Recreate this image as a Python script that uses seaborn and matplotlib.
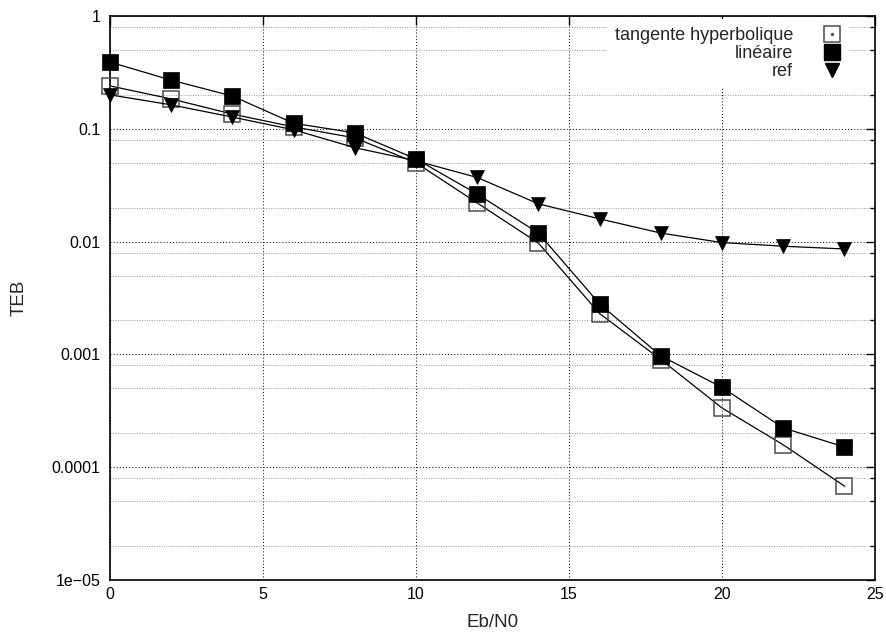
import matplotlib
matplotlib.use("Agg")
import matplotlib.pyplot as plt
import seaborn as sns
import pandas as pd
from matplotlib.lines import Line2D

# Bit error rate (TEB) versus Eb/N0 for three receivers
eb_n0 = [0, 2, 4, 6, 8, 10, 12, 14, 16, 18, 20, 22, 24]
teb_tanh = [0.24, 0.184, 0.135, 0.104, 0.083, 0.050, 0.022, 0.0097,
            0.0023, 0.0009, 3.35e-4, 1.58e-4, 6.8e-5]
teb_lin = [0.39, 0.27, 0.195, 0.112, 0.092, 0.054, 0.0264, 0.0119,
           0.0028, 0.00097, 5.1e-4, 2.23e-4, 1.51e-4]
teb_ref = [0.20, 0.163, 0.127, 0.098, 0.068, 0.052, 0.037, 0.0216,
           0.0159, 0.0119, 0.0098, 0.0091, 0.0086]

series_names = ["tangente hyperbolique", "linéaire", "ref"]

y_major = [1e-5, 1e-4, 1e-3, 1e-2, 1e-1, 1]
y_major_labels = ["1e\u221205", "0.0001", "0.001", "0.01", "0.1", "1"]
x_ticks = [0, 5, 10, 15, 20, 25]

sns.set_theme(style="white")
plt.rcParams["font.family"] = ["Liberation Sans", "DejaVu Sans"]

fig = plt.figure(figsize=(8.87, 6.32), dpi=100)
ax = fig.add_axes([0.124, 0.0823, 0.8625, 0.8924])

df = pd.DataFrame({"x": eb_n0, "tanh": teb_tanh, "lin": teb_lin, "ref": teb_ref})

line_kw = dict(color="black", linewidth=0.9, zorder=3, clip_on=False)
sq_size = 11.5

sns.lineplot(data=df, x="x", y="tanh", ax=ax, marker="s", markersize=sq_size,
             markerfacecolor="none", markeredgecolor="#4d4d4d",
             markeredgewidth=1.1, **line_kw)
sns.scatterplot(data=df, x="x", y="tanh", ax=ax, marker="o", s=1.5,
                color="#555555", linewidth=0, zorder=3, clip_on=False)
sns.lineplot(data=df, x="x", y="lin", ax=ax, marker="s", markersize=sq_size,
             markerfacecolor="black", markeredgecolor="black",
             markeredgewidth=0.5, **line_kw)
sns.lineplot(data=df, x="x", y="ref", ax=ax, marker="v", markersize=10.5,
             markerfacecolor="black", markeredgecolor="black",
             markeredgewidth=0.5, **line_kw)

ax.set_yscale("log")
ax.set_xlim(0, 25)
ax.set_ylim(1e-5, 1)
ax.set_xticks(x_ticks)
ax.set_xticklabels([str(v) for v in x_ticks])
ax.set_yticks(y_major)
ax.set_yticklabels(y_major_labels)
minor = [m * 10.0 ** e for e in range(-5, 0) for m in (2, 5, 8)]
ax.set_yticks(minor, minor=True)
ax.yaxis.set_minor_formatter(matplotlib.ticker.NullFormatter())

ax.tick_params(which="both", direction="in", top=True, right=True,
               colors="black", labelsize=11.5, width=1.0)
ax.tick_params(which="major", length=6.5)
ax.tick_params(which="minor", length=3.3)
ax.tick_params(axis="y", which="major", pad=7)
ax.tick_params(axis="x", which="major", pad=5)

ax.grid(True, which="major", axis="both", linestyle=(0, (1, 2)),
        color="#1a1a1a", linewidth=0.75)
ax.grid(True, which="minor", axis="y", linestyle=(0, (1, 1.5)),
        color="#999999", linewidth=0.7)
ax.set_axisbelow(True)

for sp in ax.spines.values():
    sp.set_color("black")
    sp.set_linewidth(1.2)

ax.set_xlabel("Eb/N0", fontsize=13.5, labelpad=9)
ax.set_ylabel("TEB", fontsize=13.5, labelpad=17)

handles = [
    (Line2D([], [], linestyle="none", marker="s", markersize=sq_size,
            markerfacecolor="white", markeredgecolor="#4d4d4d",
            markeredgewidth=1.1),
     Line2D([], [], linestyle="none", marker="o", markersize=1.5,
            color="#555555")),
    Line2D([], [], linestyle="none", marker="s", markersize=sq_size,
           markerfacecolor="black", markeredgecolor="black"),
    Line2D([], [], linestyle="none", marker="v", markersize=10.5,
           markerfacecolor="black", markeredgecolor="black"),
]
leg = ax.legend(handles, series_names, loc="upper right",
                bbox_to_anchor=(0.965, 0.994), markerfirst=False,
                frameon=True, fancybox=False, framealpha=1,
                facecolor="white", edgecolor="none", fontsize=13,
                handlelength=0.9, handletextpad=1.7, labelspacing=0.05,
                borderpad=0.45, borderaxespad=0)
for t in leg.get_texts():
    t.set_ha("right")
leg.set_zorder(5)

fig.savefig("out.png", dpi=100)
